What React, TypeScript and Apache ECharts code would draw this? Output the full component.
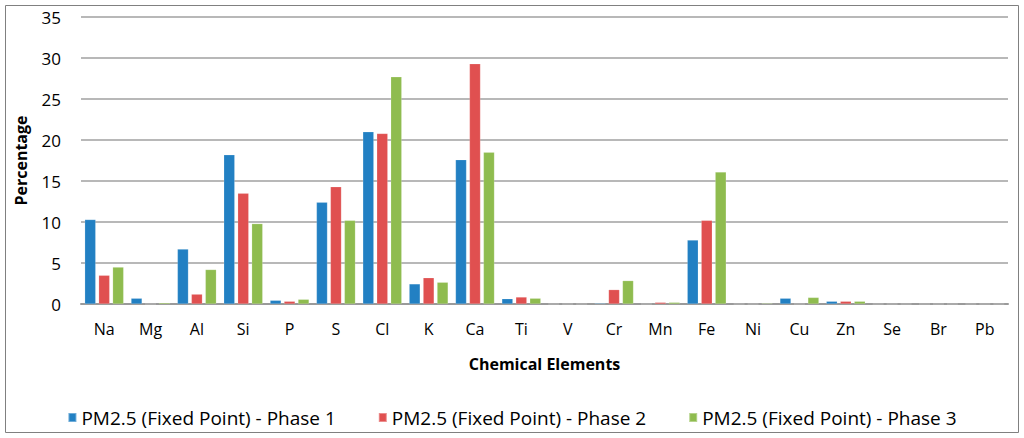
import React, { useEffect, useRef } from "react";
import * as echarts from "echarts";

const categories = ["Na", "Mg", "Al", "Si", "P", "S", "Cl", "K", "Ca", "Ti", "V", "Cr", "Mn", "Fe", "Ni", "Cu", "Zn", "Se", "Br", "Pb"];
const phase1 = [10.3, 0.7, 6.7, 18.2, 0.45, 12.4, 21.0, 2.45, 17.6, 0.65, 0, 0.1, 0, 7.8, 0, 0.7, 0.33, 0, 0, 0];
const phase2 = [3.5, 0, 1.2, 13.5, 0.33, 14.3, 20.8, 3.2, 29.3, 0.85, 0, 1.75, 0.2, 10.2, 0, 0, 0.33, 0, 0, 0];
const phase3 = [4.5, 0.15, 4.2, 9.8, 0.57, 10.2, 27.7, 2.65, 18.5, 0.7, 0, 2.85, 0.2, 16.1, 0.1, 0.8, 0.33, 0, 0, 0];
const seriesNames = ["PM2.5 (Fixed Point) - Phase 1", "PM2.5 (Fixed Point) - Phase 2", "PM2.5 (Fixed Point) - Phase 3"];
const colors = ["#2280c3", "#e05050", "#8fbc4f"];

const FONT = "'Open Sans', Lato, sans-serif";

export default function App() {
  const ref = useRef<HTMLDivElement>(null);
  useEffect(() => {
    if (!ref.current) return;
    const chart = echarts.init(ref.current, undefined, { renderer: "svg" });
    const data = [phase1, phase2, phase3];
    chart.setOption({
      animation: false,
      textStyle: { fontFamily: FONT },
      graphic: [
        {
          type: "rect",
          shape: { x: 5.5, y: 5.5, width: 1013, height: 427 },
          style: { fill: "none", stroke: "#808080", lineWidth: 1 },
          silent: true,
        },
      ],
      grid: { left: 81, right: 16, top: 17, bottom: 134, containLabel: false },
      legend: {
        bottom: 6,
        left: "center",
        itemWidth: 8,
        itemHeight: 9,
        itemGap: 42,
        icon: "rect",
        textStyle: { fontSize: 19, color: "#000", fontFamily: FONT },
        data: seriesNames,
      },
      xAxis: {
        type: "category",
        data: categories,
        name: "Chemical Elements",
        nameLocation: "middle",
        nameGap: 52,
        nameTextStyle: { fontSize: 16, fontWeight: "bold", color: "#000", fontFamily: FONT },
        axisLine: { lineStyle: { color: "#9a9a9a", width: 2 } },
        axisTick: { show: false },
        axisLabel: { fontSize: 16, color: "#000", margin: 17, fontFamily: FONT },
      },
      yAxis: {
        type: "value",
        min: 0,
        max: 35,
        interval: 5,
        name: "Percentage",
        nameLocation: "middle",
        nameGap: 52,
        nameTextStyle: { fontSize: 16, fontWeight: "bold", color: "#000", fontFamily: FONT },
        axisLine: { show: false },
        axisTick: { show: false },
        axisLabel: { fontSize: 17, color: "#000", margin: 20, fontFamily: FONT },
        splitLine: { lineStyle: { color: "#a0a0a0", width: 1.5 } },
      },
      series: seriesNames.map((name, i) => ({
        name,
        type: "bar",
        data: data[i],
        barWidth: 11,
        barGap: "27%",
        itemStyle: { color: colors[i], borderColor: "rgba(255,255,255,0.35)", borderWidth: 0.5 },
      })),
    });
    return () => chart.dispose();
  }, []);
  return (
    <div
      ref={ref}
      style={{ position: "absolute", left: 0, top: 0, width: 1024, height: 438, background: "#fff" }}
    />
  );
}
